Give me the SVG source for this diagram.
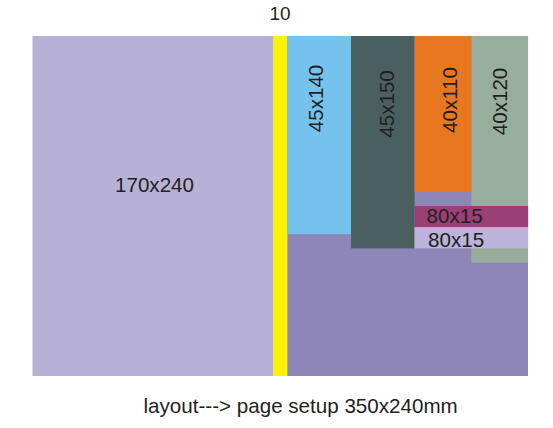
<svg xmlns="http://www.w3.org/2000/svg" width="553" height="428" viewBox="0 0 553 428">
<style>
text{font-family:"Liberation Sans",Arial,sans-serif;font-size:20.6px;fill:#231F20}
.v{text-anchor:middle}
</style>
<rect width="553" height="428" fill="#fff"/>
<g id="page">
<rect x="287" y="36" width="241" height="340" fill="#8E85B8"/>
</g>
<g id="n170x240">
<rect x="32.5" y="36" width="241" height="340" fill="#B8B1D6"/>
<text x="154.5" y="192" class="v">170x240</text>
</g>
<g id="gap10">
<rect x="273.3" y="36" width="14.1" height="340" fill="#FFF200"/>
<text x="280" y="19.5" class="v" style="font-size:19px">10</text>
</g>
<g id="n45x140">
<rect x="287.3" y="36" width="63.8" height="198.2" fill="#76C2EE"/>
<text transform="translate(323 98.5) rotate(-90)" class="v">45x140</text>
</g>
<g id="n45x150">
<rect x="351" y="36" width="63.6" height="212.4" fill="#4A5F60"/>
<text transform="translate(393.5 104) rotate(-90)" class="v">45x150</text>
</g>
<g id="n40x120">
<rect x="471.3" y="36" width="56.8" height="226.7" fill="#97AE9F"/>
<text transform="translate(506.5 101.5) rotate(-90)" class="v">40x120</text>
</g>
<g id="n40x110">
<rect x="414.5" y="36" width="56.8" height="156" fill="#E87722"/>
<text transform="translate(456.5 100) rotate(-90)" class="v">40x110</text>
</g>
<g id="n80x15a">
<rect x="414.5" y="206" width="113.6" height="21.2" fill="#9A4076"/>
<text x="426.5" y="222.5">80x15</text>
</g>
<g id="n80x15b">
<rect x="414.5" y="227.2" width="113.6" height="21.2" fill="#BBB3D9"/>
<text x="428" y="246.5">80x15</text>
</g>
<text x="143.5" y="412.5">layout---&gt; page setup 350x240mm</text>
</svg>
